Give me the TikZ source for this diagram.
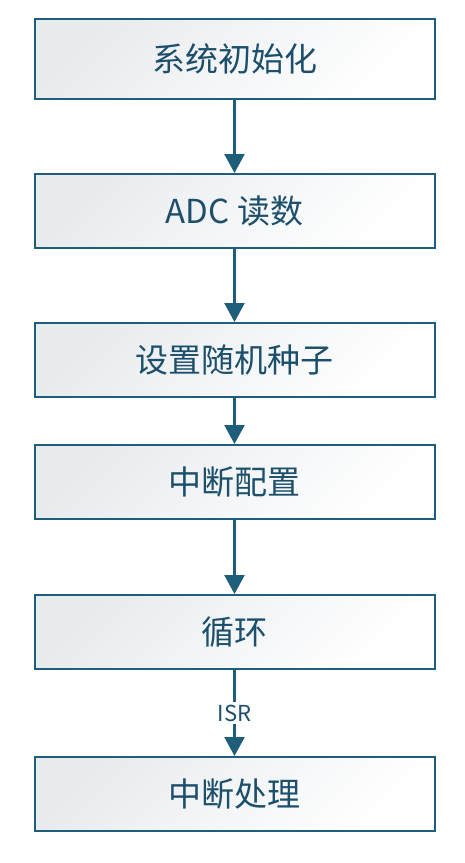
\documentclass[tikz,border=0pt]{standalone}
\usepackage{fontspec}
\setmainfont{Noto Sans CJK SC}
\usetikzlibrary{arrows.meta}
\definecolor{edge}{HTML}{1F5E7A}
\definecolor{txt}{HTML}{1C4F6B}
\definecolor{shadeA}{HTML}{E8EBEE}
\tikzset{
  box/.style={draw=edge, line width=2pt, rectangle, minimum width=400pt,
    top color=shadeA, bottom color=white, shading angle=45,
    text=txt, font=\fontsize{33}{36}\selectfont},
  conn/.style={draw=edge, line width=2.5pt, -{Triangle[width=20pt,length=19pt]}},
  lbl/.style={fill=white, text=txt, font=\fontsize{22}{24}\selectfont, inner sep=3pt}
}
\begin{document}
\begin{tikzpicture}[x=1pt,y=-1pt]
\useasboundingbox (0,0) rectangle (464,863);
\node[box, minimum height=80pt] (b1) at (234.5,59) {系统初始化};
\node[box, minimum height=74pt] (b2) at (234.5,211) {ADC 读数};
\node[box, minimum height=74pt] (b3) at (234.5,360) {设置随机种子};
\node[box, minimum height=74pt] (b4) at (234.5,482) {中断配置};
\node[box, minimum height=74pt] (b5) at (234.5,632) {循环};
\node[box, minimum height=74pt] (b6) at (234.5,794) {中断处理};
\draw[conn] (b1) -- (b2);
\draw[conn] (b2) -- (b3);
\draw[conn] (b3) -- (b4);
\draw[conn] (b4) -- (b5);
\draw[conn] (b5) -- node[lbl] {ISR} (b6);
\end{tikzpicture}
\end{document}
